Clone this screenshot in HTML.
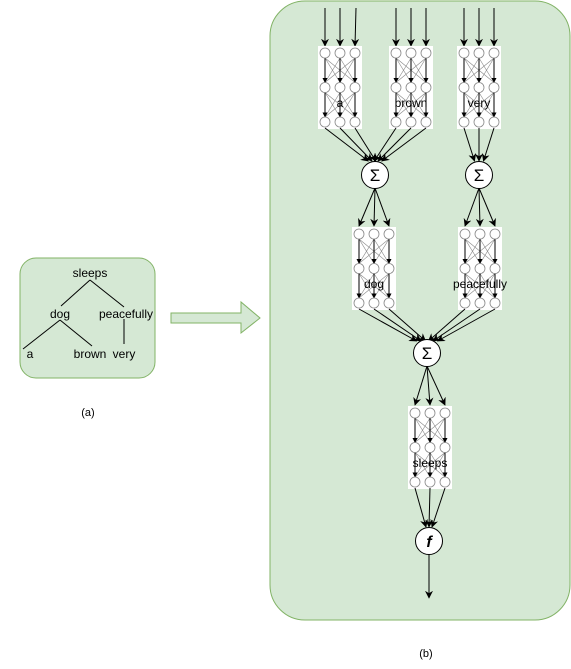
<!DOCTYPE html>
<html><head><meta charset="utf-8"><style>
html,body{margin:0;padding:0;background:#fff;}
svg{display:block;font-family:"Liberation Sans",Arial,sans-serif;}
</style></head><body>
<svg id="s" width="571" height="669" viewBox="0 0 571 669" xmlns="http://www.w3.org/2000/svg">
<defs>
<marker id="ar" viewBox="0 0 10 10" refX="9" refY="5" markerWidth="8" markerHeight="8" orient="auto"><path d="M0,0 L10,5 L0,10 L3,5 z" fill="#000"/></marker>
<marker id="sm" viewBox="0 0 10 10" refX="9" refY="5" markerWidth="5" markerHeight="5" orient="auto"><path d="M0,0 L10,5 L0,10 z" fill="#000"/></marker>
</defs>
<rect x="20" y="258" width="135" height="120" rx="16" fill="#d5e8d4" stroke="#82b366"/>
<g stroke="#000" stroke-width="1">
<line x1="90" y1="280" x2="61" y2="306"/><line x1="90" y1="280" x2="124" y2="307"/>
<line x1="60" y1="320" x2="23" y2="349"/><line x1="60" y1="320" x2="92" y2="346"/>
<line x1="124" y1="319" x2="124" y2="344"/>
</g>
<g font-size="12" text-anchor="middle" fill="#000">
<text x="90" y="277">sleeps</text><text x="60" y="318">dog</text><text x="126" y="318">peacefully</text>
<text x="30" y="358">a</text><text x="90" y="358">brown</text><text x="124" y="358">very</text>
</g>
<g font-size="11" text-anchor="middle" fill="#000">
<text x="88" y="416">(a)</text><text x="426" y="657">(b)</text>
</g>
<path d="M171,313 H241 V302 L260,318 L241,333 V323 H171 Z" fill="#d5e8d4" stroke="#82b366"/>
<rect x="270" y="1" width="300" height="619" rx="35" fill="#d5e8d4" stroke="#82b366"/>
<g id="g"></g>
</svg>
<script>
const g=document.getElementById('g');const NS='http://www.w3.org/2000/svg';
function el(t,a,txt){const e=document.createElementNS(NS,t);for(const k in a)e.setAttribute(k,a[k]);if(txt)e.textContent=txt;g.appendChild(e);return e;}
function line(x1,y1,x2,y2,m,c,w){el('line',{x1,y1,x2,y2,stroke:c||'#000','stroke-width':w||1,'marker-end':m?'url(#'+m+')':''});}
function block(x0,y0,label){const cols=[x0,x0+15,x0+30],rows=[y0,y0+34.5,y0+69];
el('rect',{x:x0-7,y:y0-7,width:44,height:83,fill:'#fff'});
for(let r=0;r<2;r++)for(const a of cols)for(const b of cols){if(a!==b)line(a,rows[r]+5,b,rows[r+1]-5,null,'#888',0.6);}
for(let r=0;r<2;r++)for(const a of cols)line(a,rows[r]+5,a,rows[r+1]-5,'sm','#000',1);
for(const r of rows)for(const c of cols)el('circle',{cx:c,cy:r,r:5,fill:'#fff',stroke:'#888','stroke-width':0.8});
el('text',{x:x0+15,y:y0+54,'font-size':12,'text-anchor':'middle'},label);
return {cols,rows};}
function circ(x,y,t,it){el('circle',{cx:x,cy:y,r:13.5,fill:'#fff',stroke:'#000'});el('text',{x:x,y:y+6,'font-size':it?16:17,'text-anchor':'middle','font-style':it?'italic':'normal','font-weight':it?'bold':'normal'},t);}
for(const x0 of [325,396,464])for(let i=0;i<3;i++)line(x0+15*i+ (i==2&&x0==325?1:0),8,x0+15*i,46,'ar');
const A=block(325,53,'a'),B=block(396,53,'brown'),V=block(464,53,'very');
for(const b of [A,B])for(const c of b.cols)line(c,128,375+(c-b.cols[1])*0.25+(b===A?-3:3),161,'ar');
for(const c of V.cols)line(c,128,479+(c-V.cols[1])*0.3,161,'ar');
const D=block(359,234,'dog'),P=block(465,234,'peacefully');
for(const c of D.cols)line(375,188,c,226,'ar');for(const c of P.cols)line(479,188,c,226,'ar');
circ(375,175,'Σ');circ(479,175,'Σ');
for(const b of [D,P])for(const c of b.cols)line(c,309,427+(c-b.cols[1])*0.3+(b===D?-6:6),341,'ar');
const S=block(415,413,'sleeps');
for(const c of S.cols)line(427,366,c,405,'ar');
circ(427,353,'Σ');
for(const c of S.cols)line(c,488,429+(c-S.cols[1])*0.2,527,'ar');
circ(429,541,'f',true);
line(429,555,429,598,'ar');
</script>
</body></html>
